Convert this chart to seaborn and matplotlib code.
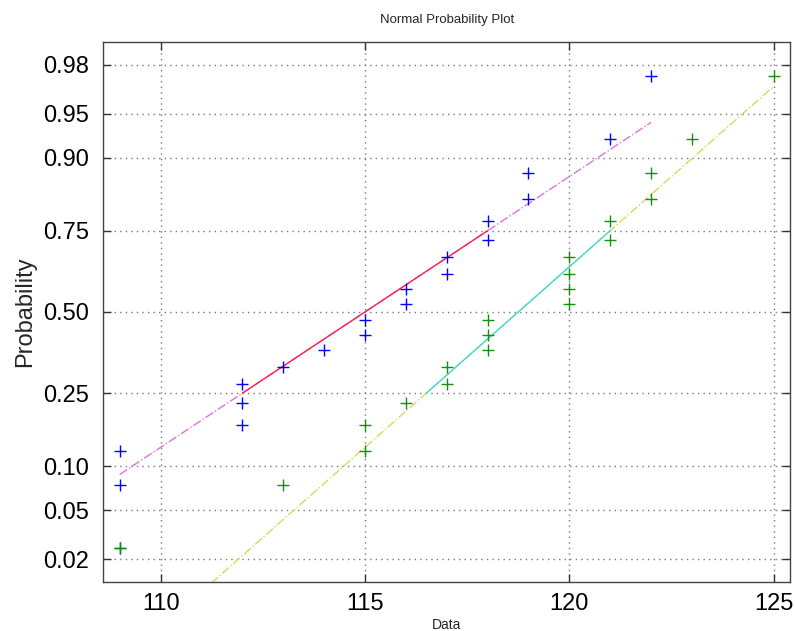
import matplotlib
matplotlib.use("Agg")
import matplotlib.pyplot as plt
import seaborn as sns
import numpy as np
import pandas as pd
from statistics import NormalDist

data_a = [109, 109, 109, 112, 112, 112, 113, 114, 115, 115,
          116, 116, 117, 117, 118, 118, 119, 119, 121, 122]
data_b = [109, 113, 115, 115, 116, 117, 117, 118, 118, 118,
          120, 120, 120, 120, 121, 121, 122, 122, 123, 125]
prob_ticks = [0.02, 0.05, 0.10, 0.25, 0.50, 0.75, 0.90, 0.95, 0.98]
x_ticks = [110, 115, 120, 125]

nd = NormalDist()
def z(p):
    return nd.inv_cdf(p)

def prctile(v, p):
    v = sorted(v)
    n = len(v)
    pos = n * p / 100 + 0.5
    lo = int(np.floor(pos))
    frac = pos - lo
    return v[lo - 1] + frac * (v[lo] - v[lo - 1])

sns.set_style("white")
plt.rcParams['font.family'] = ['Liberation Sans', 'DejaVu Sans']

fig = plt.figure(figsize=(7.95, 6.31), dpi=100)
ax = fig.add_axes([0.130, 0.0777, 0.8637, 0.8557])

marker_colors = ['#0000ff', '#119011']
solid_colors = ['#ff2050', '#40d8d8']
ext_colors = ['#e070e0', '#d8d860']

frames = []
for name, d in [('a', data_a), ('b', data_b)]:
    s = sorted(d)
    n = len(s)
    pp = [(i - 0.5) / n for i in range(1, n + 1)]
    frames.append(pd.DataFrame({'x': s, 'z': [z(p) for p in pp], 'set': name}))

# fitted lines (through quartiles), extended over data range
for k, d in enumerate([data_a, data_b]):
    q1, q3 = prctile(d, 25), prctile(d, 75)
    z1, z3 = z(0.25), z(0.75)
    slope = (z3 - z1) / (q3 - q1)
    xmin, xmax = min(d), max(d)
    ext = pd.DataFrame({'x': [xmin, xmax],
                        'z': [z1 + slope * (xmin - q1), z1 + slope * (xmax - q1)]})
    mid = pd.DataFrame({'x': [q1, q3], 'z': [z1, z3]})
    sns.lineplot(data=ext, x='x', y='z', ax=ax, color=ext_colors[k], lw=1.0,
                 estimator=None, sort=False, linestyle='-.', zorder=2)
    sns.lineplot(data=mid, x='x', y='z', ax=ax, color=solid_colors[k], lw=1.0,
                 estimator=None, sort=False, zorder=3)

for k, f in enumerate(frames):
    sns.scatterplot(data=f, x='x', y='z', ax=ax, marker='+', s=85,
                    color=marker_colors[k], linewidth=1.0, zorder=5)

ax.set_xlim(108.6, 125.4)
ax.set_ylim(z(0.0125), z(0.9875))
ax.set_xticks(x_ticks)
ax.set_xticklabels([str(t) for t in x_ticks])
ax.set_yticks([z(p) for p in prob_ticks])
ax.set_yticklabels(['%.2f' % p for p in prob_ticks])
ax.tick_params(direction='in', length=6, width=1, colors='#333333',
               labelcolor='black', labelsize=17, top=True, right=True,
               left=True, bottom=True)
ax.tick_params(axis='x', pad=8)
ax.tick_params(axis='y', pad=10)
ax.grid(True, linestyle=(0, (1, 3)), color='#777777', linewidth=1.0)
for sp in ax.spines.values():
    sp.set_color('#444444')
    sp.set_linewidth(1.0)

ax.set_title('Normal Probability Plot', fontsize=9.5, pad=14)
ax.set_xlabel('Data', fontsize=10, labelpad=2)
ax.set_ylabel('Probability', fontsize=17, labelpad=5)

fig.savefig('out.png', dpi=100)
